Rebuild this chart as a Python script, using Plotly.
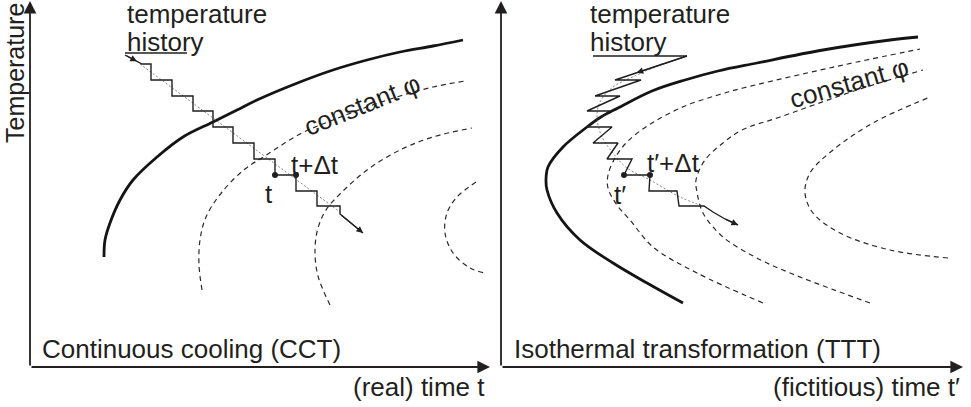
import plotly.graph_objects as go

# ---------------- Continuous cooling (CCT) panel ----------------
# time axis: real time t, vertical axis: temperature (schematic units)
cct_start_t = [74, 75, 80, 90, 103, 127, 153, 183, 207, 227, 270, 303, 337, 370, 403, 433]
cct_start_T = [110, 127, 144, 167, 187, 210, 230, 245, 257, 267, 285, 297, 307, 315, 321, 327]

cct_phi1_t = [172, 169, 170, 176, 192, 215, 235, 270, 303, 337, 370, 403, 435]
cct_phi1_T = [77, 102, 127, 150, 175, 198, 211, 233, 247, 260, 271, 280, 286]

cct_phi2_t = [300, 288, 285, 288, 296, 310, 337, 370, 403, 442]
cct_phi2_T = [62, 91, 117, 139, 157, 173, 197, 217, 230, 239]

cct_phi3_t = [446, 427, 417, 415, 423, 440, 455]
cct_phi3_T = [185, 170, 154, 134, 114, 99, 94]

# temperature levels of the isothermal holds of the cooling history
hold_temps = [303, 287, 271, 256, 240, 224, 208, 192, 176, 161]

cct_hold_start = [112, 121, 142, 163, 183, 203, 224, 245, 266, 287]
cct_hold_end = [121, 142, 163, 183, 203, 224, 245, 266, 287, 310]
cct_lead = (95, 312)
cct_exit_t = [310, 333]
cct_exit_T = [153, 134]
cct_smooth_t = [110, 310]
cct_smooth_T = [303, 155]
cct_underline_t = [95, 157]
cct_underline_T = [314, 314]
cct_step_index = 7  # hold between t and t+Δt

# ---------------- Isothermal transformation (TTT) panel ----------------
ttt_start_t = [182, 146, 112, 79, 56, 46, 45, 47, 62, 86, 100, 117, 151, 184, 217, 256, 322, 389, 417]
ttt_start_T = [64, 84, 104, 127, 154, 177, 187, 200, 220, 240, 250, 259, 276, 287, 296, 304, 317, 327, 330]

ttt_phi1_t = [262, 196, 152, 129, 116, 107, 107, 114, 127, 151, 184, 217, 242, 306, 356, 419]
ttt_phi1_T = [64, 94, 120, 147, 162, 179, 192, 209, 226, 244, 261, 272, 279, 294, 305, 318]

ttt_phi2_t = [369, 289, 254, 222, 202, 196, 195, 204, 222, 241, 279, 356, 422]
ttt_phi2_T = [64, 94, 110, 130, 154, 175, 187, 207, 224, 237, 250, 277, 297]

ttt_phi3_t = [447, 389, 339, 312, 304, 309, 332, 372, 429]
ttt_phi3_T = [109, 117, 134, 154, 174, 194, 217, 244, 270]

ttt_hold_start = [114, 94, 86, 86, 92, 106, 123, 148, 178]
ttt_hold_end = [140, 119, 109, 111, 117, 131, 149, 176, 203]
ttt_hold_temps = hold_temps[1:]
ttt_lead = (186, 311)
ttt_exit_t = [212, 224, 237]
ttt_exit_T = [155, 148, 142]
ttt_smooth_t = [161, 136, 112, 99, 96, 101, 112, 126, 149, 179, 202]
ttt_smooth_T = [303, 292, 280, 265, 250, 230, 214, 199, 187, 170, 161]
ttt_underline_t = [92, 186]
ttt_underline_T = [311, 311]
ttt_step_index = 6

INK = "#231f20"
FONT = "Liberation Sans, Arial, sans-serif"
W, H = 971, 407

fig = go.Figure()


def add_line(ax, xs, ys, width, color=INK, dash="solid", spline=False):
    fig.add_trace(go.Scatter(
        x=xs, y=ys, mode="lines", xaxis=ax[0], yaxis=ax[1],
        line=dict(color=color, width=width, dash=dash,
                  shape="spline" if spline else "linear", smoothing=1.0),
        hoverinfo="skip", showlegend=False, cliponaxis=False))


def step_path(lead, starts, ends, temps, exit_t, exit_T):
    xs, ys = [lead[0]], [lead[1]]
    for s, e, T in zip(starts, ends, temps):
        xs += [s, e]
        ys += [T, T]
    return xs + list(exit_t), ys + list(exit_T)


def arrow(ax, head, tail, width=1.0, size=1.2, color=INK):
    fig.add_annotation(x=head[0], y=head[1], ax=tail[0], ay=tail[1],
                       xref=ax[0], yref=ax[1], axref=ax[0], ayref=ax[1],
                       text="", showarrow=True, arrowhead=2, arrowsize=size,
                       arrowwidth=width, arrowcolor=color)


def label(ax, x, y, text, xanchor="center", yanchor="middle", angle=0, size=26):
    fig.add_annotation(x=x, y=y, xref=ax[0], yref=ax[1], text=text,
                       showarrow=False, xanchor=xanchor, yanchor=yanchor,
                       textangle=angle, font=dict(family=FONT, size=size, color=INK))


panels = [
    dict(ax=("x", "y"), xmax=460, start=(cct_start_t, cct_start_T),
         phis=[(cct_phi1_t, cct_phi1_T), (cct_phi2_t, cct_phi2_T), (cct_phi3_t, cct_phi3_T)],
         lead=cct_lead, hs=cct_hold_start, he=cct_hold_end, ht=hold_temps,
         exit=(cct_exit_t, cct_exit_T), smooth=(cct_smooth_t, cct_smooth_T),
         underline=(cct_underline_t, cct_underline_T), k=cct_step_index),
    dict(ax=("x2", "y2"), xmax=462, start=(ttt_start_t, ttt_start_T),
         phis=[(ttt_phi1_t, ttt_phi1_T), (ttt_phi2_t, ttt_phi2_T), (ttt_phi3_t, ttt_phi3_T)],
         lead=ttt_lead, hs=ttt_hold_start, he=ttt_hold_end, ht=ttt_hold_temps,
         exit=(ttt_exit_t, ttt_exit_T), smooth=(ttt_smooth_t, ttt_smooth_T),
         underline=(ttt_underline_t, ttt_underline_T), k=ttt_step_index),
]

for p in panels:
    ax = p["ax"]
    # lines of constant transformed fraction
    for pt, pT in p["phis"]:
        add_line(ax, pt, pT, 1.2, color="#2a2a2a", dash="5px,4px", spline=True)
    # start curve
    add_line(ax, *p["start"], 2.8, color="#141414", spline=True)
    # smooth cooling path
    add_line(ax, *p["smooth"], 0.9, color="#777777", dash="2px,2px", spline=True)
    # stepwise temperature history
    xs, ys = step_path(p["lead"], p["hs"], p["he"], p["ht"], *p["exit"])
    add_line(ax, xs, ys, 1.4, color="#1e1e1e")
    add_line(ax, *p["underline"], 1.3, color="#1e1e1e")
    # arrow on the leader and at the end of the history
    lead_tail = p["lead"]
    first = (p["hs"][0], p["ht"][0])
    head = (lead_tail[0] + 0.7 * (first[0] - lead_tail[0]),
            lead_tail[1] + 0.7 * (first[1] - lead_tail[1]))
    arrow(ax, head, lead_tail, width=1.2, size=1.1)
    ex_t, ex_T = p["exit"]
    arrow(ax, (ex_t[-1], ex_T[-1]), (ex_t[-2], ex_T[-2]), width=1.2, size=1.1)
    # the time step dots
    k = p["k"]
    fig.add_trace(go.Scatter(
        x=[p["hs"][k], p["he"][k]], y=[p["ht"][k], p["ht"][k]], mode="markers",
        xaxis=ax[0], yaxis=ax[1], marker=dict(size=6, color=INK),
        hoverinfo="skip", showlegend=False, cliponaxis=False))
    # coordinate axes with arrow heads
    arrow(ax, (p["xmax"], 0), (0, 0), width=1.8, size=1.4)
    arrow(ax, (0, 366), (0, 0), width=1.8, size=1.4)

# text of the CCT panel
A = ("x", "y")
label(A, 95, 353, "temperature", xanchor="left")
label(A, 95, 325, "history", xanchor="left")
label(A, 332, 262, "constant φ", angle=-22)
label(A, 259, 202, "t+Δt", xanchor="left")
label(A, 239, 173, "t")
label(A, 10, 18, "Continuous cooling (CCT)", xanchor="left")
label(A, 457, -20, "(real) time t", xanchor="right")
label(A, -15, 294, "Temperature", angle=-90, size=25)

# text of the TTT panel
B = ("x2", "y2")
label(B, 87, 353, "temperature", xanchor="left")
label(B, 87, 325, "history", xanchor="left")
label(B, 348, 284, "constant φ", angle=-16)
label(B, 144, 204, "t′+Δt", xanchor="left")
label(B, 119, 172, "t′")
label(B, 11, 18, "Isothermal transformation (TTT)", xanchor="left")
label(B, 461, -20, "(fictitious) time t′", xanchor="right")
label(B, -11, 296, "Temperature", angle=-90, size=25)

# each panel covers half of the page; one data unit is one pixel
SPLIT = 495
hidden = dict(visible=False, fixedrange=True)
fig.update_layout(
    width=W, height=H, margin=dict(l=0, r=0, t=0, b=0),
    paper_bgcolor="white", plot_bgcolor="white",
    xaxis=dict(domain=[0, SPLIT / W], range=[-30, SPLIT - 30], anchor="y", **hidden),
    yaxis=dict(domain=[0, 1], range=[-40, 367], anchor="x", **hidden),
    xaxis2=dict(domain=[SPLIT / W, 1], range=[SPLIT - 501, W - 501], anchor="y2", **hidden),
    yaxis2=dict(domain=[0, 1], range=[-40, 367], anchor="x2", **hidden),
)

fig.write_html("out.html")
